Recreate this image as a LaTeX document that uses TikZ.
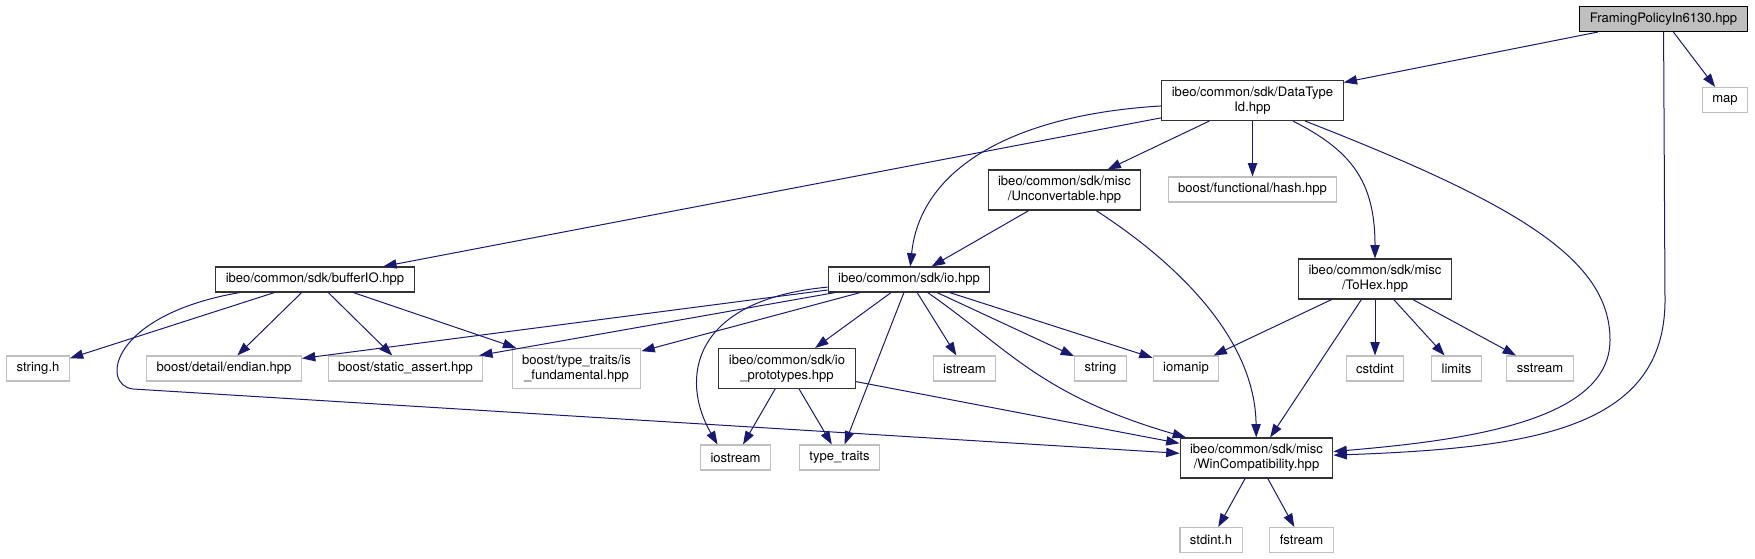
\documentclass[tikz,border=0pt]{standalone}
\usepackage{fontspec}
\setmainfont{TeX Gyre Heros}
\usetikzlibrary{arrows.meta}
\definecolor{edgeblue}{RGB}{25,25,112}
\definecolor{extgray}{RGB}{191,191,191}

\begin{document}
\begin{tikzpicture}[
  x=0.75pt, y=-0.75pt, >={Triangle[length=10pt,width=7pt]},
  file/.style={draw=black!80,line width=0.8pt,fill=white,inner xsep=7.5pt,inner ysep=0pt,
    minimum height=18.75pt,align=center,font=\fontsize{9.8}{11.25}\selectfont},
  ext/.style={file,draw=extgray},
  two/.style={minimum height=30pt},
  edge/.style={->,draw=edgeblue,line width=0.75pt}]
  \useasboundingbox (0,0) rectangle (1755,559);
  \node[file,fill=extgray,draw=black] (fp) at (1663.5,19) {FramingPolicyIn6130.hpp};
  \node[ext] (map) at (1725,100) {map};
  \node[file,two] (dti) at (1252.5,100.5) {ibeo/common/sdk/DataType\\Id.hpp};
  \node[file,two] (unc) at (1064.5,190) {ibeo/common/sdk/misc\\/Unconvertable.hpp};
  \node[ext] (hash) at (1252.5,189.5) {boost/functional/hash.hpp};
  \node[file,two] (tohex) at (1375,279) {ibeo/common/sdk/misc\\/ToHex.hpp};
  \node[file] (buf) at (315,279.5) {ibeo/common/sdk/bufferIO.hpp};
  \node[file] (io) at (909,279.5) {ibeo/common/sdk/io.hpp};
  \node[ext] (strh) at (38,368.5) {string.h};
  \node[ext] (endian) at (224,368.5) {boost/detail/endian.hpp};
  \node[ext] (sassert) at (405.5,368.5) {boost/static\_assert.hpp};
  \node[ext,two] (isfund) at (576.5,368.5) {boost/type\_traits/is\\\_fundamental.hpp};
  \node[file,two] (iop) at (787,368.5) {ibeo/common/sdk/io\\\_prototypes.hpp};
  \node[ext] (istream) at (964.5,368.5) {istream};
  \node[ext] (string) at (1100.5,368.5) {string};
  \node[ext] (iomanip) at (1186,368.5) {iomanip};
  \node[ext] (cstdint) at (1375,368.5) {cstdint};
  \node[ext] (limits) at (1456.5,368.5) {limits};
  \node[ext] (sstream) at (1540,368.5) {sstream};
  \node[ext] (iostream) at (735.5,457.5) {iostream};
  \node[ext] (ttraits) at (839.5,457.5) {type\_traits};
  \node[file,two] (wc) at (1256.5,458) {ibeo/common/sdk/misc\\/WinCompatibility.hpp};
  \node[ext] (stdint) at (1211,540) {stdint.h};
  \node[ext] (fstream) at (1301.5,540) {fstream};

  \draw[edge] (fp) -- (dti);
  \draw[edge] (fp) -- (map);
  \draw[edge] (fp) -- (1665,300) .. controls (1665,430) and (1530,448) .. (wc);
  \draw[edge] (dti) -- (buf);
  \draw[edge] (dti) .. controls (1010,115) and (920,170) .. (io);
  \draw[edge] (dti) -- (unc);
  \draw[edge] (dti) -- (hash);
  \draw[edge] (dti) .. controls (1350,150) and (1375,180) .. (tohex);
  \draw[edge] (dti) .. controls (1520,205) and (1610,260) .. (1610,340)
    .. controls (1610,420) and (1470,440) .. (wc);
  \draw[edge] (unc) -- (io);
  \draw[edge] (unc) .. controls (1180,265) and (1255,340) .. (wc);
  \draw[edge] (buf) -- (strh);
  \draw[edge] (buf) -- (endian);
  \draw[edge] (buf) -- (sassert);
  \draw[edge] (buf) -- (isfund);
  \draw[edge] (buf) .. controls (110,315) and (100,385) .. (133,389) -- (wc);
  \draw[edge] (io) -- (endian);
  \draw[edge] (io) -- (sassert);
  \draw[edge] (io) -- (isfund);
  \draw[edge] (io) .. controls (690,300) and (680,380) .. ([xshift=-13.5pt]iostream.north);
  \draw[edge] (io) -- (iop);
  \draw[edge] (io) -- (ttraits);
  \draw[edge] (io) -- (istream);
  \draw[edge] (io) -- (string);
  \draw[edge] (io) -- (iomanip);
  \draw[edge] (io) .. controls (1010,350) and (1040,395) .. (wc);
  \draw[edge] (iop) -- (iostream);
  \draw[edge] (iop) -- (ttraits);
  \draw[edge] (iop) -- (wc);
  \draw[edge] (tohex) -- (iomanip);
  \draw[edge] (tohex) -- (wc);
  \draw[edge] (tohex) -- (cstdint);
  \draw[edge] (tohex) -- (limits);
  \draw[edge] (tohex) -- (sstream);
  \draw[edge] (wc) -- (stdint);
  \draw[edge] (wc) -- (fstream);
\end{tikzpicture}
\end{document}
